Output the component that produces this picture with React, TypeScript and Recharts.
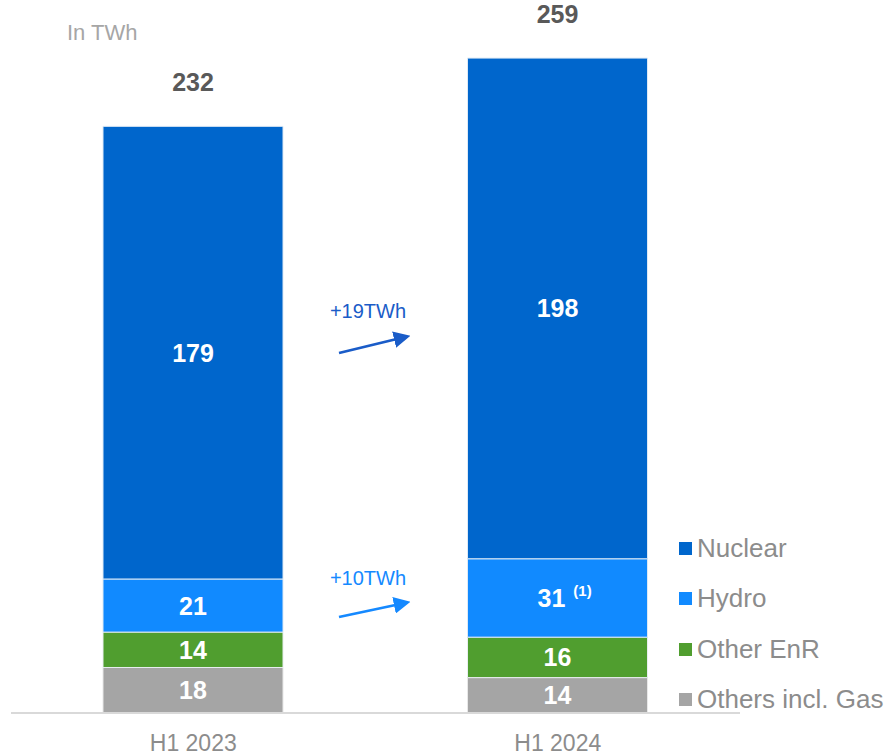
import React from "react";
import { BarChart, Bar, XAxis, YAxis, LabelList } from "recharts";

// values in TWh
const periods = ["H1 2023", "H1 2024"];
const nuclear = [179, 198];
const hydro = [21, 31];
const otherEnr = [14, 16];
const othersGas = [18, 14];
const totals = [232, 259];
const hydroNotes = ["", "(1)"];

const COLORS = {
  nuclear: "#0066CC",
  hydro: "#118AFF",
  otherEnr: "#509E2F",
  othersGas: "#A5A5A5",
};

const legendItems = [
  { name: "Nuclear", color: COLORS.nuclear },
  { name: "Hydro", color: COLORS.hydro },
  { name: "Other EnR", color: COLORS.otherEnr },
  { name: "Others incl. Gas", color: COLORS.othersGas },
];

const data = periods.map((p, i) => ({
  period: p,
  othersGas: othersGas[i],
  otherEnr: otherEnr[i],
  hydro: hydro[i],
  nuclear: nuclear[i],
}));

const FONT = "'Liberation Sans', Arial, sans-serif";

const valueLabel = (props: any) => {
  const { x, y, width, height, value, index } = props;
  const cx = x + width / 2;
  const cy = y + height / 2;
  return (
    <text
      x={cx}
      y={cy + 9}
      textAnchor="middle"
      fill="#ffffff"
      fontWeight="bold"
      fontSize={25}
      fontFamily={FONT}
      key={index}
    >
      {value}
    </text>
  );
};

const hydroLabel = (props: any) => {
  const { x, y, width, height, value, index } = props;
  const note = hydroNotes[index];
  const cx = x + width / 2 - (note ? 6 : 0);
  const cy = y + height / 2;
  return (
    <g key={index}>
      <text
        x={cx}
        y={cy + 9}
        textAnchor="middle"
        fill="#ffffff"
        fontWeight="bold"
        fontSize={25}
        fontFamily={FONT}
      >
        {value}
      </text>
      {note ? (
        <text
          x={cx + 31}
          y={cy - 2}
          textAnchor="middle"
          fill="#ffffff"
          fontWeight="bold"
          fontSize={15}
          fontFamily={FONT}
        >
          {note}
        </text>
      ) : null}
    </g>
  );
};

const totalLabel = (props: any) => {
  const { x, y, width, index } = props;
  return (
    <text
      key={index}
      x={x + width / 2}
      y={y - 35}
      textAnchor="middle"
      fill="#595959"
      fontWeight="bold"
      fontSize={25}
      fontFamily={FONT}
    >
      {totals[index]}
    </text>
  );
};

const renderTick = (props: any) => {
  const { x, y, payload } = props;
  return (
    <text
      x={x}
      y={y + 36}
      textAnchor="middle"
      fill="#8c8c8c"
      fontSize={23}
      fontFamily={FONT}
    >
      {payload.value}
    </text>
  );
};

export default function App() {
  return (
    <div style={{ position: "absolute", left: 0, top: 0, width: 891, height: 756 }}>
      <BarChart
        width={891}
        height={756}
        data={data}
        margin={{ top: 5, right: 151, bottom: 0, left: 11 }}
        barSize={180}
      >
        <XAxis
          dataKey="period"
          height={43}
          tickSize={0}
          tick={renderTick}
          axisLine={{ stroke: "#d9d9d9", strokeWidth: 2 }}
        />
        <YAxis hide domain={[0, 280]} />
        <Bar dataKey="othersGas" stackId="a" fill={COLORS.othersGas} stroke="#e8e8e8" strokeWidth={1} isAnimationActive={false}>
          <LabelList dataKey="othersGas" content={valueLabel} />
        </Bar>
        <Bar dataKey="otherEnr" stackId="a" fill={COLORS.otherEnr} stroke="#e8eef0" strokeWidth={1} isAnimationActive={false}>
          <LabelList dataKey="otherEnr" content={valueLabel} />
        </Bar>
        <Bar dataKey="hydro" stackId="a" fill={COLORS.hydro} stroke="#dde9f5" strokeWidth={1} isAnimationActive={false}>
          <LabelList dataKey="hydro" content={hydroLabel} />
        </Bar>
        <Bar dataKey="nuclear" stackId="a" fill={COLORS.nuclear} stroke="#dde9f5" strokeWidth={1} isAnimationActive={false}>
          <LabelList dataKey="nuclear" content={valueLabel} />
          <LabelList dataKey="nuclear" content={totalLabel} />
        </Bar>
      </BarChart>
      <div style={{ position: "absolute", left: 679, top: 523, fontFamily: FONT }}>
        {legendItems.map((it) => (
          <div key={it.name} style={{ display: "flex", alignItems: "center", height: 50.5 }}>
            <span
              style={{
                display: "inline-block",
                width: 13,
                height: 13,
                background: it.color,
                marginRight: 5,
              }}
            />
            <span style={{ fontSize: 26, color: "#8c8c8c", whiteSpace: "nowrap" }}>
              {it.name}
            </span>
          </div>
        ))}
      </div>
      <svg
        width={891}
        height={756}
        style={{ position: "absolute", left: 0, top: 0, pointerEvents: "none" }}
      >
        <defs>
          <marker id="headDark" markerWidth="6" markerHeight="6" refX="4" refY="3" orient="auto" markerUnits="strokeWidth">
            <path d="M0,0 L6,3 L0,6 Z" fill="#1a5cc8" />
          </marker>
          <marker id="headLight" markerWidth="6" markerHeight="6" refX="4" refY="3" orient="auto" markerUnits="strokeWidth">
            <path d="M0,0 L6,3 L0,6 Z" fill="#1589ff" />
          </marker>
        </defs>
        <text x={67} y={40} fill="#a6a6a6" fontSize={22} fontFamily={FONT}>
          In TWh
        </text>
        <text x={368} y={318} textAnchor="middle" fill="#1a5cc8" fontSize={20} fontFamily={FONT}>
          +19TWh
        </text>
        <line x1={339} y1={353} x2={405} y2={337} stroke="#1a5cc8" strokeWidth={2.8} markerEnd="url(#headDark)" />
        <text x={368} y={585} textAnchor="middle" fill="#1589ff" fontSize={20} fontFamily={FONT}>
          +10TWh
        </text>
        <line x1={339} y1={617} x2={405} y2={603} stroke="#1589ff" strokeWidth={2.8} markerEnd="url(#headLight)" />
      </svg>
    </div>
  );
}
